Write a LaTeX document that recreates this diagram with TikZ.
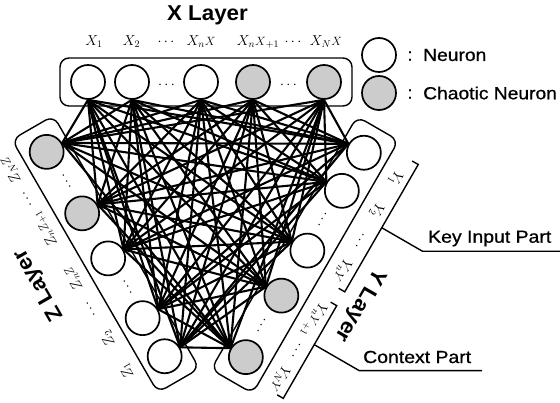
\documentclass[tikz,border=0pt]{standalone}
\usepackage{fontspec}
\newfontfamily\sansf{Liberation Sans}
\newfontfamily\sansm[FakeBold=0.8]{Liberation Sans}
\usetikzlibrary{calc,backgrounds}
\definecolor{chaosgray}{gray}{0.8}
\newcommand\smallletter[1]{{\hbox{\fontsize{11.5}{11.5}\selectfont$#1$}}}
\tikzset{
  neuron/.style={circle, draw, line width=1.7pt, minimum size=34pt, inner sep=0pt, fill=white},
  chaos/.style={neuron, fill=chaosgray},
  layerbox/.style={draw, line width=1.4pt, rounded corners=9pt},
  link/.style={line width=2.1pt},
  lab/.style={inner sep=0pt, font=\fontsize{14}{14}\selectfont, transform shape},
  ltitle/.style={inner sep=0pt, font=\sansf\bfseries\fontsize{21.5}{21.5}\selectfont},
  stext/.style={inner sep=0pt, font=\sansm\fontsize{17.5}{17.5}\selectfont},
  brk/.style={line width=1.4pt},
}
\newcommand\drawneurons[1]{%
  \node[neuron] (#1-1) at (-117.5,-115) {};
  \node[neuron] (#1-2) at (-73.5,-115) {};
  \node[neuron] (#1-3) at (-4.5,-115) {};
  \node[chaos] (#1-4) at (47.5,-115) {};
  \node[chaos] (#1-5) at (118.5,-115) {};
  \node[lab] (#1-d1) at (-39,-112) {$\cdots$};
  \node[lab] (#1-d2) at (83,-112) {$\cdots$};
  \draw[layerbox] (-145.5,-139) -- (146.5,-139) -- (146.5,-91) -- (-145.5,-91) -- cycle;
  \node[lab] (#1-l1) at (-111.5,-155) {$#1_1$};
  \node[lab] (#1-l2) at (-74,-155) {$#1_2$};
  \node[lab] (#1-l3) at (-39.5,-155) {$\cdots$};
  \node[lab] (#1-l4) at (-4.5,-155) {$#1_{n}\smallletter{#1}$};
  \node[lab] (#1-l5) at (52.5,-155) {$#1_{n}\smallletter{#1}_{+1}$};
  \node[lab] (#1-l6) at (87.5,-155) {$\cdots$};
  \node[lab] (#1-l7) at (120.5,-155) {$#1_{N}\smallletter{#1}$};
}
\begin{document}
\begin{tikzpicture}[x=1pt,y=-1pt]
\path[use as bounding box] (0,0) rectangle (560,403);

% X layer
\begin{scope}[shift={(205.5,197)}]
  \drawneurons{X}
\end{scope}
% Y layer
\begin{scope}[shift={(205.5,197)}, rotate=-120]
  \drawneurons{Y}
  % brackets
  \draw[brk] (-134.5,-161) -- (-134.5,-168) -- (12.5,-168) -- (12.5,-161);
  \draw[brk] (28.5,-161) -- (28.5,-168) -- (135.5,-168) -- (135.5,-161);
  \coordinate (keyA) at (-61.5,-168);
  \coordinate (keyB) at (-61.5,-215);
  \coordinate (ctxA) at (73.5,-168);
  \coordinate (ctxB) at (73.5,-220);
\end{scope}
% Z layer
\begin{scope}[shift={(205.5,197)}, rotate=120]
  \drawneurons{Z}
\end{scope}

% connections
\begin{pgfonlayer}{background}
\foreach \a in {1,...,5}{
  \foreach \b in {1,...,5}{
    \draw[link] (X-\a.south) -- (Y-\b.150);
    \draw[link] (X-\a.south) -- (Z-\b.30);
    \draw[link] (Y-\a.150) -- (Z-\b.30);
  }
}
\end{pgfonlayer}

% titles
\node[ltitle] (xt) at (207.5,15) {\scalebox{1.04}[1]{X Layer}};
\node[ltitle, rotate=-120] (yt) at (360,305) {\scalebox{1.04}[1]{Y Layer}};
\node[ltitle, rotate=120] (zt) at (39.5,285) {\scalebox{1.04}[1]{Z Layer}};

% leader lines
\coordinate (keyEnd) at (560,0);
\coordinate (ctxEnd) at (482,0);
\draw[brk] (keyA) -- (keyB) -- (keyB -| keyEnd);
\draw[brk] (ctxA) -- (ctxB) -- (ctxB -| ctxEnd);
\node[stext, anchor=west] (keyt) at (428,238.5) {\scalebox{1.11}[1]{Key Input Part}};
\node[stext, anchor=west] (ctxt) at (363,357) {\scalebox{1.11}[1]{Context Part}};

% legend
\node[neuron] (legN) at (379,55) {};
\node[chaos] (legC) at (379,93) {};
\node[stext] (c1) at (410,56) {:};
\node[stext] (c2) at (410,94) {:};
\node[stext, anchor=west] (tN) at (423,55) {\scalebox{1.1}[1]{Neuron}};
\node[stext, anchor=west] (tC) at (423,93) {\scalebox{1.1}[1]{Chaotic Neuron}};
\end{tikzpicture}
\end{document}
